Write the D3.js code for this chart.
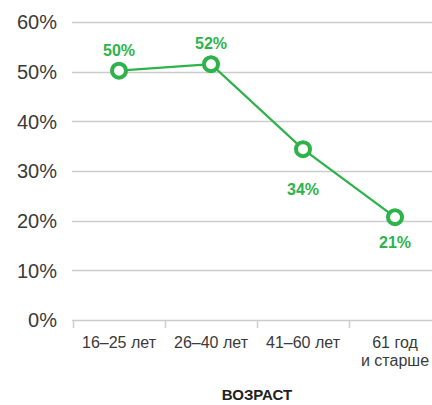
<!DOCTYPE html>
<html>
<head>
<meta charset="utf-8">
<script src="https://cdn.jsdelivr.net/npm/d3@7"></script>
<style>
  body { margin: 0; background: #fff; }
  text { font-family: "Liberation Sans", Arial, sans-serif; }
</style>
</head>
<body>
<div></div>
<script>
// data
var categories = ["16–25 лет", "26–40 лет", "41–60 лет", "61 год\nи старше"];
var values = [50.2, 51.5, 34.4, 20.7];
var valueLabels = ["50%", "52%", "34%", "21%"];
var yTicks = [0, 10, 20, 30, 40, 50, 60];

// label offset from point (px), above is negative
var labelOffset = [-15, -15, 46, 31];

var width = 432, height = 405;
var green = "#2db34a";
var textColor = "#3a3a3a";
var gridColor = "#cccccc";

var svg = d3.select("div").append("svg")
    .attr("width", width)
    .attr("height", height);

var x = d3.scaleBand()
    .domain(categories)
    .range([73, 441]);

var y = d3.scaleLinear()
    .domain([0, 60])
    .range([320, 22]);

// gridlines
svg.append("g").selectAll("line")
    .data(yTicks)
    .join("line")
    .attr("x1", 72)
    .attr("x2", width)
    .attr("y1", function(d) { return Math.round(y(d)) + 0.5; })
    .attr("y2", function(d) { return Math.round(y(d)) + 0.5; })
    .attr("stroke", gridColor)
    .attr("stroke-width", 1.5);

// y labels
svg.append("g").selectAll("text")
    .data(yTicks)
    .join("text")
    .attr("x", 57)
    .attr("y", function(d) { return y(d); })
    .attr("dy", "0.36em")
    .attr("text-anchor", "end")
    .attr("fill", textColor)
    .style("font-size", "20px")
    .text(function(d) { return d + "%"; });

// x ticks
var tickX = categories.map(function(c) { return x(c); });
svg.append("g").selectAll("line")
    .data(tickX)
    .join("line")
    .attr("x1", function(d) { return d + 0.5; })
    .attr("x2", function(d) { return d + 0.5; })
    .attr("y1", y(0))
    .attr("y2", y(0) + 8)
    .attr("stroke", gridColor)
    .attr("stroke-width", 1.5);

// x labels
var xl = svg.append("g").selectAll("text")
    .data(categories)
    .join("text")
    .attr("x", function(d) { return x(d) + x.bandwidth() / 2; })
    .attr("y", 348)
    .attr("text-anchor", "middle")
    .attr("fill", textColor)
    .style("font-size", "16px");
xl.each(function(d) {
    var lines = d.split("\n");
    var t = d3.select(this);
    lines.forEach(function(s, i) {
        t.append("tspan")
            .attr("x", x(d) + x.bandwidth() / 2)
            .attr("dy", i === 0 ? 0 : 18)
            .text(s);
    });
});

svg.append("text")
    .attr("x", 257)
    .attr("y", 400)
    .attr("text-anchor", "middle")
    .attr("fill", "#222")
    .style("font-size", "15px")
    .style("font-weight", "bold")
    .text("ВОЗРАСТ");

// line
var pts = categories.map(function(c, i) {
    return [x(c) + x.bandwidth() / 2, y(values[i])];
});

svg.append("path")
    .datum(pts)
    .attr("d", d3.line())
    .attr("fill", "none")
    .attr("stroke", green)
    .attr("stroke-width", 2.2);

svg.append("g").selectAll("circle")
    .data(pts)
    .join("circle")
    .attr("cx", function(d) { return d[0]; })
    .attr("cy", function(d) { return d[1]; })
    .attr("r", 7)
    .attr("fill", "#fff")
    .attr("stroke", green)
    .attr("stroke-width", 4);

svg.append("g").selectAll("text")
    .data(pts)
    .join("text")
    .attr("x", function(d) { return d[0]; })
    .attr("y", function(d, i) { return d[1] + labelOffset[i]; })
    .attr("text-anchor", "middle")
    .attr("fill", green)
    .style("font-size", "16px")
    .style("font-weight", "bold")
    .text(function(d, i) { return valueLabels[i]; });
</script>
</body>
</html>
